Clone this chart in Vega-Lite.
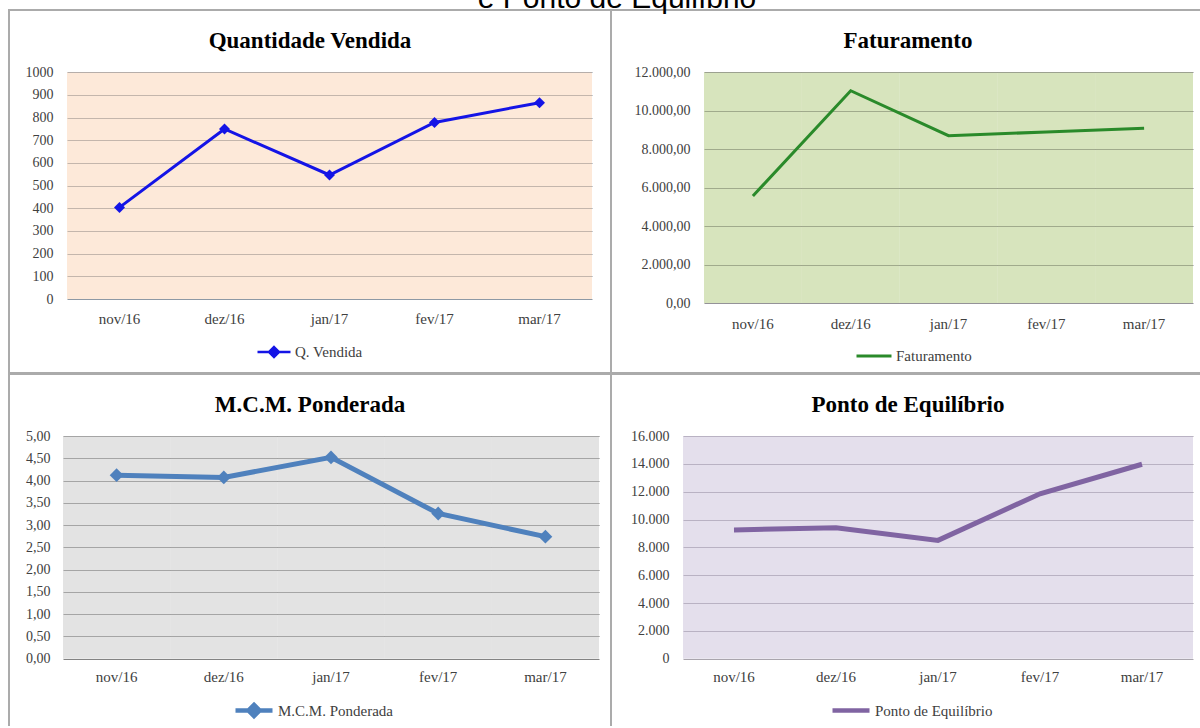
{
  "$schema": "https://vega.github.io/schema/vega-lite/v6.json",
  "background": "white",
  "padding": {"left": 8, "top": -16, "right": -5, "bottom": -9},
  "title": {"text": "e Ponto de Equilíbrio", "font": "Liberation Sans", "fontSize": 30, "fontWeight": "normal", "color": "#000000", "anchor": "middle", "offset": -5, "dx": 10},
  "datasets": {
    "qv": [
      {"mes": "nov/16", "valor": 404, "serie": "Q. Vendida"},
      {"mes": "dez/16", "valor": 750, "serie": "Q. Vendida"},
      {"mes": "jan/17", "valor": 547, "serie": "Q. Vendida"},
      {"mes": "fev/17", "valor": 779, "serie": "Q. Vendida"},
      {"mes": "mar/17", "valor": 866, "serie": "Q. Vendida"}
    ],
    "fat": [
      {"mes": "nov/16", "valor": 5574, "serie": "Faturamento"},
      {"mes": "dez/16", "valor": 11044, "serie": "Faturamento"},
      {"mes": "jan/17", "valor": 8707, "serie": "Faturamento"},
      {"mes": "fev/17", "valor": 8900, "serie": "Faturamento"},
      {"mes": "mar/17", "valor": 9091, "serie": "Faturamento"}
    ],
    "mcm": [
      {"mes": "nov/16", "valor": 4.12, "serie": "M.C.M. Ponderada"},
      {"mes": "dez/16", "valor": 4.07, "serie": "M.C.M. Ponderada"},
      {"mes": "jan/17", "valor": 4.52, "serie": "M.C.M. Ponderada"},
      {"mes": "fev/17", "valor": 3.26, "serie": "M.C.M. Ponderada"},
      {"mes": "mar/17", "valor": 2.74, "serie": "M.C.M. Ponderada"}
    ],
    "pe": [
      {"mes": "nov/16", "valor": 9250, "serie": "Ponto de Equilíbrio"},
      {"mes": "dez/16", "valor": 9410, "serie": "Ponto de Equilíbrio"},
      {"mes": "jan/17", "valor": 8500, "serie": "Ponto de Equilíbrio"},
      {"mes": "fev/17", "valor": 11850, "serie": "Ponto de Equilíbrio"},
      {"mes": "mar/17", "valor": 13970, "serie": "Ponto de Equilíbrio"}
    ]
  },
  "spacing": -2,
  "resolve": {"scale": {"color": "independent", "x": "independent", "y": "independent"}, "legend": {"color": "independent"}},
  "vconcat": [
    {
      "spacing": 0,
      "bounds": "flush",
      "resolve": {"scale": {"color": "independent", "x": "independent", "y": "independent"}, "legend": {"color": "independent"}},
      "hconcat": [
        {
          "width": 602, "height": 363,
          "data": {"name": "qv"},
          "title": {"text": "Quantidade Vendida", "offset": -54, "baseline": "middle", "frame": "group", "anchor": "middle"},
          "encoding": {
            "x": {"field": "mes", "type": "nominal", "sort": null,
                  "scale": {"type": "band", "range": [58, 583], "paddingInner": 0, "paddingOuter": 0},
                  "axis": {"orient": "bottom", "offset": -74, "labelPadding": 12, "labelAngle": 0}},
            "y": {"field": "valor", "type": "quantitative",
                  "scale": {"domain": [0, 1000], "range": [289, 62.3], "nice": false, "zero": true},
                  "axis": {"orient": "left", "offset": -44, "values": [0,100,200,300,400,500,600,700,800,900,1000], "format": "d", "gridColor": "#8d99a5"}}
          },
          "layer": [
            {"mark": {"type": "rect", "color": "#fbd3b3", "opacity": 0.5},
             "encoding": {"y": {"datum": 0, "type": "quantitative"}, "y2": {"datum": 1000}}},
            {"mark": {"type": "line", "strokeWidth": 3},
             "encoding": {"color": {"field": "serie", "type": "nominal",
               "scale": {"range": ["#1414e6"]},
               "legend": {"orient": "none", "legendX": 247, "legendY": 324, "title": null,
                 "symbolType": "M-1,0H1M0,-0.3L0.3,0L0,0.3L-0.3,0Z", "symbolSize": 1089,
                 "symbolStrokeWidth": 2.5, "symbolFillColor": "#1414e6", "symbolStrokeColor": "#1414e6"}}}},
            {"mark": {"type": "point", "shape": "diamond", "filled": true, "size": 120, "opacity": 1, "color": "#1414e6"}}
          ]
        },
        {
          "width": 594, "height": 363,
          "data": {"name": "fat"},
          "title": {"text": "Faturamento", "offset": -54, "baseline": "middle", "frame": "group", "anchor": "middle"},
          "encoding": {
            "x": {"field": "mes", "type": "nominal", "sort": null,
                  "scale": {"type": "band", "range": [93, 582], "paddingInner": 0, "paddingOuter": 0},
                  "axis": {"orient": "bottom", "offset": -70, "labelPadding": 13, "labelAngle": 0}},
            "y": {"field": "valor", "type": "quantitative",
                  "scale": {"domain": [0, 12000], "range": [293.3, 62.3], "nice": false, "zero": true},
                  "axis": {"orient": "left", "offset": -79, "values": [0,2000,4000,6000,8000,10000,12000], "format": ",.2f", "gridColor": "#918b9d"}}
          },
          "layer": [
            {"mark": {"type": "rect", "color": "#afc97b", "opacity": 0.5},
             "encoding": {"y": {"datum": 0, "type": "quantitative"}, "y2": {"datum": 12000}}},
            {"mark": {"type": "line", "strokeWidth": 3},
             "encoding": {"color": {"field": "serie", "type": "nominal",
               "scale": {"range": ["#2a8a2a"]},
               "legend": {"orient": "none", "legendX": 244, "legendY": 327, "title": null,
                 "symbolType": "M-1,0H1", "symbolSize": 1225,
                 "symbolStrokeWidth": 3, "symbolStrokeColor": "#2a8a2a"}}}}
          ]
        }
      ]
    },
    {
      "spacing": 0,
      "bounds": "flush",
      "resolve": {"scale": {"color": "independent", "x": "independent", "y": "independent"}, "legend": {"color": "independent"}},
      "hconcat": [
        {
          "width": 602, "height": 360,
          "data": {"name": "mcm"},
          "title": {"text": "M.C.M. Ponderada", "offset": -54, "baseline": "middle", "frame": "group", "anchor": "middle"},
          "encoding": {
            "x": {"field": "mes", "type": "nominal", "sort": null,
                  "scale": {"type": "band", "range": [54, 590], "paddingInner": 0, "paddingOuter": 0},
                  "axis": {"orient": "bottom", "offset": -75.3, "labelPadding": 11, "labelAngle": 0}},
            "y": {"field": "valor", "type": "quantitative",
                  "scale": {"domain": [0, 5], "range": [284.7, 62], "nice": false, "zero": true},
                  "axis": {"orient": "left", "offset": -41, "values": [0,0.5,1,1.5,2,2.5,3,3.5,4,4.5,5], "format": ".2f", "gridColor": "#838383"}}
          },
          "layer": [
            {"mark": {"type": "rect", "color": "#c7c7c7", "opacity": 0.5},
             "encoding": {"y": {"datum": 0, "type": "quantitative"}, "y2": {"datum": 5}}},
            {"mark": {"type": "line", "strokeWidth": 5},
             "encoding": {"color": {"field": "serie", "type": "nominal",
               "scale": {"range": ["#4f81bd"]},
               "legend": {"orient": "none", "legendX": 224, "legendY": 315.5, "title": null,
                 "symbolType": "M-1,0H1M0,-0.3L0.3,0L0,0.3L-0.3,0Z", "symbolSize": 1369,
                 "symbolStrokeWidth": 4.5, "symbolFillColor": "#4f81bd", "symbolStrokeColor": "#4f81bd"}}}},
            {"mark": {"type": "point", "shape": "diamond", "filled": true, "size": 190, "opacity": 1, "color": "#4f81bd"}}
          ]
        },
        {
          "width": 594, "height": 360,
          "data": {"name": "pe"},
          "title": {"text": "Ponto de Equilíbrio", "offset": -54, "baseline": "middle", "frame": "group", "anchor": "middle"},
          "encoding": {
            "x": {"field": "mes", "type": "nominal", "sort": null,
                  "scale": {"type": "band", "range": [72, 582], "paddingInner": 0, "paddingOuter": 0},
                  "axis": {"orient": "bottom", "offset": -75.3, "labelPadding": 11, "labelAngle": 0}},
            "y": {"field": "valor", "type": "quantitative",
                  "scale": {"domain": [0, 16000], "range": [284.7, 62], "nice": false, "zero": true},
                  "axis": {"orient": "left", "offset": -58, "values": [0,2000,4000,6000,8000,10000,12000,14000,16000], "format": ",d", "gridColor": "#a9a5ad"}}
          },
          "layer": [
            {"mark": {"type": "rect", "color": "#c9bfd9", "opacity": 0.5},
             "encoding": {"y": {"datum": 0, "type": "quantitative"}, "y2": {"datum": 16000}}},
            {"mark": {"type": "line", "strokeWidth": 5},
             "encoding": {"color": {"field": "serie", "type": "nominal",
               "scale": {"range": ["#8064a2"]},
               "legend": {"orient": "none", "legendX": 219, "legendY": 315.5, "title": null,
                 "symbolType": "M-1,0H1", "symbolSize": 1369,
                 "symbolStrokeWidth": 4.5, "symbolStrokeColor": "#8064a2"}}}}
          ]
        }
      ]
    }
  ],
  "config": {
    "locale": {"number": {"decimal": ",", "thousands": ".", "grouping": [3], "currency": ["R$", ""]}},
    "view": {"stroke": "#ababab", "strokeWidth": 2, "fill": "white"},
    "title": {"font": "Liberation Serif", "fontSize": 23, "fontWeight": "bold", "color": "#000000"},
    "axis": {"labelFont": "Liberation Serif", "labelColor": "#404040", "labelFontSize": 14, "ticks": false, "tickSize": 0, "domain": false, "title": null},
    "axisX": {"grid": false, "labelFontSize": 15},
    "axisY": {"grid": true, "gridWidth": 1, "labelPadding": 0},
    "legend": {"labelFont": "Liberation Serif", "labelFontSize": 15, "labelColor": "#404040", "labelOffset": 3, "padding": 0}
  }
}
